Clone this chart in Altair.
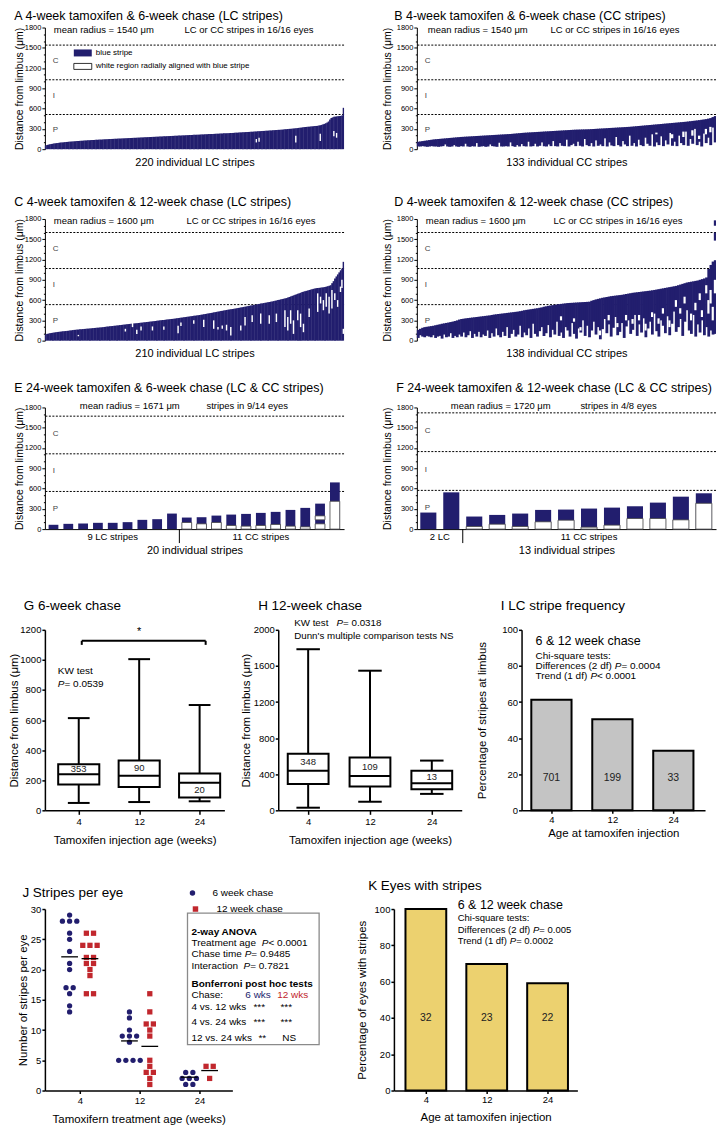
import altair as alt
import pandas as pd

FONT = "Liberation Sans"
NAVY = "#221e6e"
RED = "#c1272d"
BARGRAY = "#c4c4c4"
YELLOW = "#ecd16f"

# ---------------- data ----------------
A_top = [55, 62, 68, 72, 76, 80, 84, 87, 90, 93,
         96, 98, 100, 102, 104, 106, 108, 110, 112, 114,
         115, 117, 118, 120, 121, 123, 124, 126, 127, 129,
         130, 131, 132, 134, 135, 136, 137, 139, 140, 141,
         142, 143, 144, 146, 147, 148, 149, 150, 151, 152,
         153, 154, 155, 156, 157, 158, 159, 160, 161, 162,
         163, 164, 165, 166, 167, 168, 169, 170, 171, 172,
         173, 174, 175, 176, 177, 178, 179, 180, 181, 182,
         183, 184, 185, 186, 187, 188, 189, 190, 191, 192,
         193, 194, 195, 196, 197, 198, 199, 200, 201, 202,
         203, 204, 205, 206, 207, 208, 209, 210, 211, 212,
         213, 214, 215, 216, 217, 218, 219, 220, 221, 222,
         223, 224, 225, 226, 227, 228, 229, 230, 231, 232,
         233, 234, 235, 236, 237, 238, 239, 240, 241, 243,
         244, 245, 246, 248, 249, 250, 251, 253, 254, 255,
         256, 258, 259, 260, 262, 263, 264, 266, 267, 268,
         270, 271, 272, 274, 275, 277, 278, 280, 281, 283,
         284, 286, 287, 289, 290, 292, 294, 296, 298, 300,
         302, 304, 306, 308, 310, 312, 315, 318, 320, 323,
         326, 328, 330, 332, 334, 336, 338, 340, 342, 344,
         346, 350, 355, 360, 368, 375, 385, 395, 410, 440,
         462, 470, 478, 482, 485, 488, 490, 492, 500, 612]
A_gap_i = [155, 157, 184, 202, 212, 214]
A_gap_lo = [100, 110, 100, 120, 190, 170]
A_gap_hi = [150, 170, 200, 230, 270, 240]

B_top = [110, 115, 120, 125, 130, 135, 140, 145, 148, 151,
         154, 157, 160, 163, 166, 169, 172, 175, 178, 181,
         183, 185, 187, 189, 191, 193, 195, 197, 199, 201,
         203, 205, 207, 209, 211, 213, 215, 217, 219, 221,
         223, 225, 228, 231, 234, 237, 240, 243, 245, 247,
         249, 251, 253, 255, 257, 259, 261, 263, 265, 267,
         269, 271, 273, 275, 277, 279, 281, 283, 285, 287,
         289, 290, 291, 292, 293, 294, 295, 297, 299, 301,
         303, 305, 307, 309, 311, 313, 315, 317, 319, 321,
         323, 325, 327, 329, 331, 334, 337, 340, 343, 346,
         349, 352, 355, 358, 361, 364, 367, 370, 373, 376,
         379, 382, 385, 388, 391, 394, 397, 400, 403, 406,
         410, 414, 418, 422, 426, 430, 435, 440, 445, 452,
         460, 475, 490]
B_bot = [40, 40, 45, 40, 35, 40, 45, 40, 40, 35,
         40, 45, 70, 40, 35, 40, 60, 40, 35, 45,
         40, 80, 40, 35, 45, 40, 90, 35, 40, 45,
         35, 40, 70, 45, 40, 35, 95, 40, 40, 45,
         40, 100, 45, 35, 60, 40, 75, 45, 40, 110,
         40, 45, 80, 40, 50, 100, 45, 40, 70, 45,
         120, 45, 40, 90, 50, 45, 140, 40, 60, 80,
         45, 110, 50, 40, 150, 60, 45, 90, 40, 130,
         50, 70, 45, 160, 40, 100, 55, 45, 180, 60,
         40, 120, 70, 45, 200, 50, 90, 40, 140, 60,
         45, 170, 80, 50, 220, 40, 100, 60, 190, 45,
         130, 70, 240, 50, 110, 45, 200, 90, 60, 260,
         50, 150, 80, 300, 60, 110, 40, 230, 90, 170,
         60, 320, 100]
B_gap_i = [106, 113, 118, 122, 125, 128, 130]
B_gap_lo = [220, 160, 180, 200, 150, 220, 250]
B_gap_hi = [245, 220, 260, 280, 200, 300, 330]

C_top = [95, 100, 105, 110, 114, 118, 121, 124, 127, 130,
         133, 136, 138, 140, 142, 144, 147, 150, 153, 156,
         159, 161, 163, 165, 167, 169, 171, 173, 175, 177,
         179, 181, 183, 185, 187, 189, 191, 193, 195, 197,
         199, 202, 205, 208, 210, 212, 215, 217, 220, 222,
         225, 227, 230, 232, 235, 237, 240, 242, 245, 247,
         250, 252, 254, 257, 259, 261, 263, 266, 268, 271,
         273, 276, 278, 281, 283, 286, 288, 291, 294, 297,
         300, 302, 305, 307, 310, 312, 315, 317, 320, 322,
         325, 328, 331, 334, 337, 340, 343, 346, 349, 352,
         355, 358, 361, 364, 367, 370, 373, 376, 379, 383,
         387, 390, 394, 398, 402, 406, 410, 414, 418, 422,
         426, 430, 434, 438, 442, 446, 450, 454, 458, 462,
         465, 468, 471, 475, 479, 483, 487, 491, 495, 499,
         503, 507, 511, 515, 519, 523, 527, 531, 535, 540,
         544, 548, 552, 556, 560, 564, 568, 572, 576, 580,
         585, 590, 595, 600, 605, 610, 615, 620, 625, 630,
         638, 646, 654, 662, 670, 678, 686, 694, 702, 710,
         719, 725, 731, 737, 743, 749, 755, 761, 767, 773,
         777, 779, 781, 784, 787, 790, 795, 800, 805, 812,
         820, 850, 880, 918, 950, 980, 1010, 1040, 1066, 1166]
C_gap_i = [23, 56, 61, 64, 67, 75, 83, 93, 95, 104, 111, 118, 121, 124, 127, 130,
           137, 140, 145, 151, 157, 162, 168, 170, 172, 174, 177, 179, 181, 185,
           191, 193, 195, 197, 199, 201, 203, 205, 207, 208, 209]
C_gap_lo = [65, 135, 200, 100, 150, 150, 160, 110, 215, 250, 200, 175, 165, 175, 150, 75,
            150, 225, 275, 250, 250, 275, 200, 150, 250, 100, 300, 200, 125, 350,
            425, 550, 450, 500, 400, 475, 600, 500, 720, 780, 100]
C_gap_hi = [85, 175, 270, 160, 210, 210, 210, 220, 270, 300, 310, 300, 200, 225, 235, 200,
            225, 350, 375, 400, 375, 400, 450, 350, 450, 300, 450, 400, 250, 475,
            700, 650, 600, 700, 650, 750, 700, 600, 800, 900, 175]

D_top = [160, 175, 190, 200, 205, 210, 215, 220, 228, 235,
         242, 250, 256, 262, 268, 275, 282, 290, 300, 312,
         320, 325, 330, 334, 338, 342, 346, 350, 354, 358,
         362, 366, 370, 374, 380, 386, 390, 394, 398, 402,
         406, 410, 414, 418, 422, 426, 430, 436, 442, 450,
         455, 460, 465, 470, 475, 480, 486, 492, 500, 508,
         515, 520, 525, 530, 535, 540, 544, 548, 552, 556,
         558, 560, 562, 564, 566, 568, 570, 572, 574, 576,
         590, 600, 610, 618, 626, 634, 640, 646, 652, 658,
         662, 666, 670, 674, 678, 684, 690, 696, 702, 708,
         712, 716, 720, 724, 728, 732, 736, 740, 745, 750,
         756, 762, 768, 774, 780, 786, 792, 798, 804, 810,
         820, 830, 840, 850, 860, 866, 872, 878, 884, 890,
         900, 910, 920, 935, 1060, 1120, 1170, 1190]
D_bot = [40, 80, 60, 50, 70, 60, 50, 80, 40, 60,
         70, 30, 90, 50, 60, 110, 40, 70, 50, 90,
         60, 120, 50, 80, 140, 40, 100, 60, 130, 50,
         90, 70, 150, 40, 110, 60, 180, 80, 50, 130,
         70, 200, 40, 100, 160, 60, 90, 220, 50, 120,
         80, 180, 40, 250, 100, 60, 140, 200, 70, 110,
         230, 50, 160, 90, 280, 70, 120, 40, 200, 150,
         60, 260, 100, 30, 180, 120, 300, 70, 220, 50,
         150, 280, 90, 200, 20, 170, 320, 110, 240, 60,
         190, 350, 80, 130, 260, 40, 210, 300, 100, 160,
         380, 70, 240, 120, 330, 50, 180, 280, 90, 400,
         140, 60, 300, 220, 110, 360, 80, 250, 430, 130,
         200, 320, 70, 280, 450, 150, 100, 380, 60, 240,
         120, 300, 80, 200, 60, 150, 90, 100]
D_gap_i = [66, 72, 75, 84, 88, 92, 96, 99, 102, 105, 108, 111, 113, 116, 119, 121,
           123, 126, 128, 130, 131, 133, 134, 135, 136, 137]
D_gap_lo = [300, 280, 150, 80, 300, 200, 300, 250, 300, 150, 350, 250, 400, 200, 500, 400,
            550, 300, 450, 600, 350, 700, 400, 550, 300, 700]
D_gap_hi = [360, 330, 200, 150, 380, 260, 380, 320, 380, 250, 420, 330, 480, 300, 600, 480,
            650, 400, 560, 700, 450, 820, 600, 750, 500, 900]
D_ext_i = [137, 137]
D_ext_lo = [1480, 1700]
D_ext_hi = [1600, 1780]

E_top = [64, 78, 83, 93, 93, 103, 137, 147, 230, 171, 176, 200, 215, 225, 240, 255, 284, 314, 377, 691]
E_white = [0, 0, 0, 0, 0, 0, 0, 0, 0, 98, 78, 98, 54, 44, 54, 69, 44, 34, 78, 412]
E_w2_i = [19]
E_w2_lo = [137]
E_w2_hi = [196]
F_top = [245, 544, 186, 210, 230, 284, 289, 304, 318, 338, 392, 480, 530]
F_white = [0, 0, 39, 73, 39, 108, 132, 29, 59, 157, 157, 137, 382]

AGES = ["4", "12", "24"]
G_min = [49, 55, 60]
G_q1 = [171, 155, 85]
G_med = [240, 229, 183]
G_q3 = [307, 332, 245]
G_max = [613, 1005, 700]
G_n = ["353", "90", "20"]
G_half = ["upper", "upper", "lower"]
H_min = [29, 95, 182]
H_q1 = [292, 263, 234]
H_med = [438, 380, 299]
H_q3 = [628, 584, 438]
H_max = [1785, 1547, 551]
H_n = ["348", "109", "13"]
H_half = ["upper", "upper", "upper"]
I_pct = [61.3, 50.5, 33.0]
I_n = ["701", "199", "33"]
K_pct = [100, 69.7, 59.1]
K_n = ["32", "23", "22"]

J6_w4 = [29, 28, 28, 28, 26, 25, 23, 21, 20, 17, 17, 16, 14, 13]
J6_w12 = [13, 12, 10, 9, 9, 9, 8, 5, 5, 5, 5]
J6_w24 = [3, 3, 2, 2, 2, 1, 1]
J12_w4 = [26, 26, 24, 24, 24, 22, 22, 21, 21, 20, 19, 16, 16]
J12_w12 = [16, 13, 11, 11, 10, 9, 5, 4, 3, 3, 2, 1]
J12_w24 = [4, 4, 2]
J6_mean = [22.1, 8.2, 2.2]
J12_mean = [21.8, 7.3, 3.3]
CHASES = ["6 week chase", "12 week chase"]

# ---------------- text helpers ----------------
AW = {" ": 278, "!": 278, "(": 333, ")": 333, "*": 389, "+": 584, ",": 278, "-": 333, ".": 278,
      "/": 278, ":": 278, "<": 584, "=": 584, ">": 584, "&": 667, "'": 191}
for _c in "0123456789":
    AW[_c] = 556
AW.update(dict(zip("ABCDEFGHIJKLMNOPQRSTUVWXYZ",
                   [667, 667, 722, 722, 667, 611, 778, 722, 278, 500, 667, 556, 833, 722, 778, 667, 778,
                    722, 667, 611, 722, 667, 944, 667, 667, 611])))
AW.update(dict(zip("abcdefghijklmnopqrstuvwxyz",
                   [556, 556, 500, 556, 556, 278, 556, 556, 222, 222, 500, 222, 833, 556, 556, 556, 556,
                    333, 500, 278, 556, 500, 722, 500, 500, 500])))


def tw(s, size):
    return sum(AW.get(c, 556) for c in s) * size / 1000.0


def txt(s, x, y, size=10, align="left", color="black", weight="normal", style="normal"):
    return alt.Chart(pd.DataFrame({"t": [s]})).mark_text(
        align=align, baseline="middle", fontSize=size, color=color, fontWeight=weight,
        fontStyle=style, font=FONT).encode(text="t:N", x=alt.value(x), y=alt.value(y))


def rich(parts, x, y, size=10):
    out = []
    for s, it in parts:
        out.append(txt(s, x, y, size=size, style="italic" if it else "normal"))
        x += tw(s, size)
    return out


def ptitle(text, dx, offset, size=12.5):
    return alt.TitleParams(text, anchor="start", dx=dx, offset=offset, fontSize=size,
                           fontWeight="normal", font=FONT, color="black")


# ---------------- stripe panels (A-F) ----------------
SW, SH = 300, 122


def stripe_yaxis(tp):
    return alt.Axis(title="Distance from limbus (μm)", values=list(range(0, 1801, 100)), format="d",
                    labelExpr="datum.value % 300 === 0 ? datum.label : ''",
                    tickSize={"condition": {"test": "datum.value % 300 === 0", "value": 3}, "value": 1.5},
                    labelFontSize=7.5, labelPadding=1, titleFontSize=10.5, titlePadding=tp,
                    grid=False, labelOverlap=False, labelFlush=False, domainWidth=1, tickWidth=1)


def common_layers(bounds, ys, yax, t1, t1x, t2, t2x, ty):
    zdf = pd.DataFrame({"z": ["C", "I", "P"],
                        "zy": [(bounds[0] + bounds[1]) / 2 + 20, (bounds[1] + bounds[2]) / 2 + 20,
                               bounds[2] / 2 + 20]})
    zones = alt.Chart(zdf).mark_text(align="left", baseline="middle", fontSize=8, color="#444444",
                                     font=FONT).encode(x=alt.value(8), y=alt.Y("zy:Q", scale=ys, axis=yax),
                                                       text="z:N")
    return [zones, txt(t1, t1x, ty, 9.5), txt(t2, t2x, ty, 9.5)]


def bound_layer(bounds, ys, yax):
    return alt.Chart(pd.DataFrame({"b": bounds})).mark_rule(
        color="black", strokeDash=[2, 1.5], strokeWidth=1).encode(y=alt.Y("b:Q", scale=ys, axis=yax))


def stripe_panel(title, dx, toff, tops, bots, gi, glo, ghi, bounds, t1, t1x, t2, t2x, xtitle, tp,
                 ei=None, elo=None, ehi=None, legend=False):
    n = len(tops)
    xs = alt.Scale(domain=[0, n], nice=False, zero=False)
    ys = alt.Scale(domain=[0, 1800], nice=False, zero=False)
    yax = stripe_yaxis(tp)
    xax = alt.Axis(labels=False, ticks=False, domain=False, grid=False, title=xtitle,
                   titleFontSize=11, titlePadding=7)
    df = pd.DataFrame({"i": list(range(n)), "top": tops, "bot": bots})
    layers = [bound_layer(bounds, ys, yax)]
    layers.append(alt.Chart(df).transform_calculate(i2=f"min(datum.i + 1.3, {n})").mark_rect(
        color=NAVY).encode(
        x=alt.X("i:Q", scale=xs, axis=xax), x2="i2:Q",
        y=alt.Y("bot:Q", scale=ys, axis=yax), y2="top:Q"))
    gdf = pd.DataFrame({"i": gi, "lo": glo, "hi": ghi})
    layers.append(alt.Chart(gdf).transform_calculate(i2="datum.i + 1").mark_rect(color="white").encode(
        x=alt.X("i:Q", scale=xs, axis=xax), x2="i2:Q",
        y=alt.Y("lo:Q", scale=ys, axis=yax), y2="hi:Q"))
    if ei:
        edf = pd.DataFrame({"i": ei, "lo": elo, "hi": ehi})
        layers.append(alt.Chart(edf).transform_calculate(i2="datum.i + 1").mark_rect(color=NAVY).encode(
            x=alt.X("i:Q", scale=xs, axis=xax), x2="i2:Q",
            y=alt.Y("lo:Q", scale=ys, axis=yax), y2="hi:Q"))
    layers += common_layers(bounds, ys, yax, t1, t1x, t2, t2x, 2)
    if legend:
        one = pd.DataFrame({"k": [0]})
        layers.append(alt.Chart(one).mark_rect(color=NAVY).encode(
            x=alt.value(29), x2=alt.value(47), y=alt.value(22), y2=alt.value(29)))
        layers.append(alt.Chart(one).mark_rect(fill="white", stroke="black", strokeWidth=0.8).encode(
            x=alt.value(29), x2=alt.value(47), y=alt.value(36), y2=alt.value(42)))
        layers.append(txt("blue stripe", 51, 25.5, 8))
        layers.append(txt("white region radially aligned with blue stripe", 51, 39, 8))
    return alt.layer(*layers).properties(width=SW, height=SH, title=ptitle(title, dx, toff))


def ef_panel(title, dx, tops, whites, w2i, w2lo, w2hi, nlc, grp_labels, dom, hw, bounds,
             t1, t1x, t2, t2x, xtitle, tp):
    n = len(tops)
    xs = alt.Scale(domain=dom, nice=False, zero=False)
    ys = alt.Scale(domain=[0, 1800], nice=False, zero=False)
    yax = stripe_yaxis(tp)
    xax = alt.Axis(labels=False, ticks=False, domain=True, grid=False, title=xtitle,
                   titleFontSize=11, titlePadding=15, domainWidth=1)
    X = lambda f: alt.X(f, scale=xs, axis=xax)
    Y = lambda f: alt.Y(f, scale=ys, axis=yax)
    df = pd.DataFrame({"idx": list(range(1, n + 1)), "top": tops, "wtop": whites})
    calc = dict(xl=f"datum.idx - {hw}", xr=f"datum.idx + {hw}", z="0")
    layers = [bound_layer(bounds, ys, yax)]
    layers.append(alt.Chart(df).transform_calculate(**calc).mark_rect(color=NAVY).encode(
        x=X("xl:Q"), x2="xr:Q", y=Y("z:Q"), y2="top:Q"))
    layers.append(alt.Chart(df).transform_filter("datum.wtop > 0").transform_calculate(**calc).mark_rect(
        fill="white", stroke="#444444", strokeWidth=0.8).encode(
        x=X("xl:Q"), x2="xr:Q", y=Y("z:Q"), y2="wtop:Q"))
    if w2i:
        w2 = pd.DataFrame({"idx": w2i, "lo": w2lo, "hi": w2hi})
        layers.append(alt.Chart(w2).transform_calculate(xl=f"datum.idx - {hw}", xr=f"datum.idx + {hw}").mark_rect(
            fill="white", stroke="#444444", strokeWidth=0.8).encode(
            x=X("xl:Q"), x2="xr:Q", y=Y("lo:Q"), y2="hi:Q"))
    layers += common_layers(bounds, ys, yax, t1, t1x, t2, t2x, -1)
    gl = pd.DataFrame({"lab": grp_labels, "xc": [(1 + nlc) / 2, (nlc + 1 + n) / 2]})
    layers.append(alt.Chart(gl).mark_text(fontSize=9.5, baseline="middle", align="center", font=FONT).encode(
        x=X("xc:Q"), y=alt.value(SH + 8), text="lab:N"))
    layers.append(alt.Chart(pd.DataFrame({"s": [nlc + 0.5]})).mark_rule(color="black", strokeWidth=1).encode(
        x=X("s:Q"), y=alt.value(SH), y2=alt.value(SH + 14)))
    return alt.layer(*layers).properties(width=SW, height=SH, title=ptitle(title, dx, 7))


# ---------------- G-K panels ----------------
AGE_EXPR = "['4','12','24'][datum.value]"


def xaxis_cat(title, tick, lpad, tp):
    return alt.Axis(values=[0, 1, 2], labelExpr=AGE_EXPR, title=title, tickSize=tick, labelPadding=lpad,
                    labelFontSize=9.5, titleFontSize=11.5, titlePadding=tp, domainWidth=1.5, tickWidth=1.5,
                    grid=False, labelFlush=False)


def yaxis_num(title, vals, tp):
    return alt.Axis(values=vals, title=title, format="d", tickSize=3, labelPadding=1, labelFontSize=9.5,
                    titleFontSize=11.5, titlePadding=tp, domainWidth=1.5, tickWidth=1.5, grid=False,
                    labelFlush=False, labelOverlap=False)


def box_panel(title, dx, toff, W, H, dom, ymax, ystep, mins, q1, med, q3, maxs, ns, half,
              ytp, xtitle, bhw, chw, extra):
    xs = alt.Scale(domain=dom, nice=False, zero=False)
    ys = alt.Scale(domain=[0, ymax], nice=False)
    xax = xaxis_cat(xtitle, 4, 2, 9)
    yax = yaxis_num("Distance from limbus (μm)", list(range(0, ymax + 1, ystep)), ytp)
    X = lambda f: alt.X(f, scale=xs, axis=xax)
    Y = lambda f: alt.Y(f, scale=ys, axis=yax)
    ly = [(med[k] + q3[k]) / 2 if half[k] == "upper" else (q1[k] + med[k]) / 2 for k in range(3)]
    df = pd.DataFrame({"idx": [0, 1, 2], "mn": mins, "q1": q1, "md": med, "q3": q3, "mx": maxs,
                       "n": ns, "ly": ly})
    base = alt.Chart(df).transform_calculate(xl=f"datum.idx - {bhw}", xr=f"datum.idx + {bhw}",
                                             cl=f"datum.idx - {chw}", cr=f"datum.idx + {chw}")
    layers = [
        base.mark_rule(color="black", strokeWidth=2).encode(x=X("idx:Q"), y=Y("mn:Q"), y2="mx:Q"),
        base.mark_rect(fill="white", stroke="black", strokeWidth=2).encode(
            x=X("xl:Q"), x2="xr:Q", y=Y("q1:Q"), y2="q3:Q"),
        base.mark_rule(color="black", strokeWidth=2).encode(x=X("xl:Q"), x2="xr:Q", y=Y("md:Q")),
        base.mark_rule(color="black", strokeWidth=2).encode(x=X("cl:Q"), x2="cr:Q", y=Y("mn:Q")),
        base.mark_rule(color="black", strokeWidth=2).encode(x=X("cl:Q"), x2="cr:Q", y=Y("mx:Q")),
        base.mark_text(fontSize=9.5, color="#222222", font=FONT, baseline="middle").encode(
            x=X("idx:Q"), y=Y("ly:Q"), text="n:N"),
    ]
    layers += extra(X, Y)
    return alt.layer(*layers).properties(width=W, height=H, title=ptitle(title, dx, toff, 13.5))


def g_extra(X, Y):
    br = pd.DataFrame({"x1": [0.05], "x2": [2.1], "y": [1127], "yd": [1100], "xm": [1.0], "ys": [1185],
                       "s": ["*"]})
    c = alt.Chart(br)
    return [
        c.mark_rule(color="black", strokeWidth=2).encode(x=X("x1:Q"), x2="x2:Q", y=Y("y:Q")),
        c.mark_rule(color="black", strokeWidth=2).encode(x=X("x1:Q"), y=Y("yd:Q"), y2="y:Q"),
        c.mark_rule(color="black", strokeWidth=2).encode(x=X("x2:Q"), y=Y("yd:Q"), y2="y:Q"),
        c.mark_text(fontSize=11, font=FONT, baseline="middle").encode(x=X("xm:Q"), y=Y("ys:Q"), text="s:N"),
        txt("KW test", 13, 41, 10),
    ] + rich([("P", True), (" = 0.0539", False)], 13, 54, 10)


def h_extra(X, Y):
    return rich([("KW test   ", False), ("P", True), (" = 0.0318", False)], 16, -7, 9.8) + \
        [txt("Dunn's multiple comparison tests NS", 16, 6, 9.8)]


def bar_panel(title, dx, toff, W, H, dom, vals, ns, color, ytitle, ytp, xtitle, xtick, xtp, bhw,
              lbl_y, texts):
    xs = alt.Scale(domain=dom, nice=False, zero=False)
    ys = alt.Scale(domain=[0, 100], nice=False)
    xax = xaxis_cat(xtitle, xtick, 1, xtp)
    yax = yaxis_num(ytitle, [0, 20, 40, 60, 80, 100], ytp)
    df = pd.DataFrame({"idx": [0, 1, 2], "v": vals, "n": ns})
    base = alt.Chart(df).transform_calculate(xl=f"datum.idx - {bhw}", xr=f"datum.idx + {bhw}", z="0")
    layers = [
        base.mark_rect(fill=color, stroke="black", strokeWidth=2).encode(
            x=alt.X("xl:Q", scale=xs, axis=xax), x2="xr:Q", y=alt.Y("z:Q", scale=ys, axis=yax), y2="v:Q"),
        base.mark_text(fontSize=10.5, font=FONT, baseline="middle", color="#222222").encode(
            x=alt.X("idx:Q", scale=xs, axis=xax), y=alt.value(lbl_y), text="n:N"),
    ]
    layers += texts
    return alt.layer(*layers).properties(width=W, height=H, title=ptitle(title, dx, toff, 13.5))


# ---------------- build panels ----------------
A = stripe_panel("A  4-week tamoxifen & 6-week chase (LC stripes)", 0, 1, A_top, [0] * len(A_top),
                 A_gap_i, A_gap_lo, A_gap_hi, [1540, 1027, 513],
                 "mean radius = 1540 μm", 9, "LC or CC stripes in 16/16 eyes", 140,
                 "220 individual LC stripes", 0, legend=True)
B = stripe_panel("B  4-week tamoxifen & 6-week chase (CC stripes)", 12, 1, B_top, B_bot,
                 B_gap_i, B_gap_lo, B_gap_hi, [1540, 1027, 513],
                 "mean radius = 1540 μm", 11, "LC or CC stripes in 16/16 eyes", 134,
                 "133 individual CC stripes", 4)
C = stripe_panel("C  4-week tamoxifen & 12-week chase (LC stripes)", 0, 7, C_top, [0] * len(C_top),
                 C_gap_i, C_gap_lo, C_gap_hi, [1600, 1067, 533],
                 "mean radius = 1600 μm", 9, "LC or CC stripes in 16/16 eyes", 142,
                 "210 individual LC stripes", 0)
D = stripe_panel("D  4-week tamoxifen & 12-week chase (CC stripes)", 12, 7, D_top, D_bot,
                 D_gap_i, D_gap_lo, D_gap_hi, [1600, 1067, 533],
                 "mean radius = 1600 μm", 9, "LC or CC stripes in 16/16 eyes", 137,
                 "138 individual CC stripes", 4, D_ext_i, D_ext_lo, D_ext_hi)
E = ef_panel("E  24-week tamoxifen & 6-week chase (LC & CC stripes)", 0, E_top, E_white,
             E_w2_i, E_w2_lo, E_w2_hi, 9, ["9 LC stripes", "11 CC stripes"], [0.42, 20.62], 0.33,
             [1671, 1114, 557], "mean radius = 1671 μm", 35, "stripes in 9/14 eyes", 162,
             "20 individual stripes", 0)
F = ef_panel("F  24-week tamoxifen & 12-week chase (LC & CC stripes)", 14, F_top, F_white,
             [], [], [], 2, ["2 LC", "11 CC stripes"], [0.5, 13.53], 0.35,
             [1720, 1147, 573], "mean radius = 1720 μm", 34, "stripes in 4/8 eyes", 164,
             "13 individual stripes", 4)

G = box_panel("G  6-week chase", 15, 12, 180, 181, [-0.56, 2.41], 1200, 200,
              G_min, G_q1, G_med, G_q3, G_max, G_n, G_half, 0, "Tamoxifen injection age (weeks)",
              0.34, 0.18, g_extra)
H = box_panel("H  12-week chase", 18, 5, 184, 181, [-0.484, 2.484], 2000, 400,
              H_min, H_q1, H_med, H_q3, H_max, H_n, H_half, 2, "Tamoxifen injection age (weeks)",
              0.33, 0.19, h_extra)

I_texts = [txt("6 & 12 week chase", 14, 11, 12.5), txt("Chi-square tests:", 14, 26, 10)] + \
    rich([("Differences (2 df) ", False), ("P", True), (" = 0.0004", False)], 14, 36, 10) + \
    rich([("Trend (1 df) ", False), ("P", True), (" < 0.0001", False)], 14, 46, 10)
I = bar_panel("I  LC stripe frequency", 24, 12, 184, 181, [-0.49, 2.52], I_pct, I_n, BARGRAY,
              "Percentage of stripes at limbus", 14, "Age at tamoxifen injection", 3, 4, 0.33, 149, I_texts)

K_texts = [txt("6 & 12 week chase", 64, -4, 12.5), txt("Chi-square tests:", 64, 9, 9.5)] + \
    rich([("Differences (2 df) ", False), ("P", True), (" = 0.005", False)], 64, 21, 9.5) + \
    rich([("Trend (1 df) ", False), ("P", True), (" = 0.0002", False)], 64, 32, 9.5)
K = bar_panel("K  Eyes with stripes", 12, 7, 184, 182, [-0.525, 2.49], K_pct, K_n, YELLOW,
              "Percentage of eyes with stripes", 7, "Age at tamoxifen injection", 3, 8, 0.335, 109, K_texts)

# ---- J ----
rows = []
for ci, groups in enumerate([[J6_w4, J6_w12, J6_w24], [J12_w4, J12_w12, J12_w24]]):
    for gi_, vals in enumerate(groups):
        for v in vals:
            rows.append({"idx": gi_, "chase": CHASES[ci], "v": v})
jdf = pd.DataFrame(rows)
mrows = []
for ci, means in enumerate([J6_mean, J12_mean]):
    for gi_, m in enumerate(means):
        mrows.append({"idx": gi_, "chase": CHASES[ci], "m": m})
mdf = pd.DataFrame(mrows)

jxs = alt.Scale(domain=[-0.583, 2.55], nice=False, zero=False)
jys = alt.Scale(domain=[0, 30], nice=False)
jxax = xaxis_cat("Tamoxifern treatment age (weeks)", 3, 2, 9)
jyax = yaxis_num("Number of stripes per eye", [0, 5, 10, 15, 20, 25, 30], 2)
OFF = "(datum.chase == '6 week chase' ? -0.17 : 0.17)"
points = alt.Chart(jdf).transform_window(
    rn="row_number()", groupby=["idx", "chase", "v"]).transform_joinaggregate(
    cnt="count()", groupby=["idx", "chase", "v"]).transform_calculate(
    xj=f"datum.idx + {OFF} + (datum.rn - (datum.cnt + 1) / 2) * 0.12").mark_point(
    filled=True, size=28, opacity=1).encode(
    x=alt.X("xj:Q", scale=jxs, axis=jxax), y=alt.Y("v:Q", scale=jys, axis=jyax),
    color=alt.Color("chase:N", scale=alt.Scale(domain=CHASES, range=[NAVY, RED]), legend=None),
    shape=alt.Shape("chase:N", scale=alt.Scale(domain=CHASES, range=["circle", "square"]), legend=None))
means = alt.Chart(mdf).transform_calculate(
    xl=f"datum.idx + {OFF} - 0.14", xr=f"datum.idx + {OFF} + 0.14").mark_rule(
    color="black", strokeWidth=1.3).encode(
    x=alt.X("xl:Q", scale=jxs, axis=jxax), x2="xr:Q", y=alt.Y("m:Q", scale=jys, axis=jyax))
one = pd.DataFrame({"k": [0]})
leg = [
    alt.Chart(one).mark_point(shape="circle", filled=True, size=30, opacity=1, color=NAVY).encode(
        x=alt.value(148), y=alt.value(-16)),
    alt.Chart(one).mark_point(shape="square", filled=True, size=30, opacity=1, color=RED).encode(
        x=alt.value(151), y=alt.value(0)),
    txt(CHASES[0], 168, -16, 10), txt(CHASES[1], 172, 0, 10),
]
box = alt.Chart(one).mark_rect(fill="white", stroke="#8a8a8a", strokeWidth=1.3).encode(
    x=alt.value(143), x2=alt.value(275), y=alt.value(4), y2=alt.value(136))
J_texts = [txt("2-way ANOVA", 147, 23, 10, weight="bold")]
J_texts += rich([("Treatment age  ", False), ("P", True), (" < 0.0001", False)], 147, 34, 10)
J_texts += rich([("Chase time ", False), ("P", True), (" = 0.9485", False)], 147, 45, 10)
J_texts += rich([("Interaction  ", False), ("P", True), (" = 0.7821", False)], 147, 57, 10)
J_texts += [txt("Bonferroni post hoc tests", 147, 75, 10, weight="bold"),
            txt("Chase:", 147, 86, 10), txt("6 wks", 201, 86, 10, color=NAVY),
            txt("12 wks", 233, 86, 10, color=RED),
            txt("4 vs. 12 wks", 147, 98, 10), txt("***", 215, 98, 10, align="center"),
            txt("***", 242, 98, 10, align="center"),
            txt("4 vs. 24 wks", 147, 113, 10), txt("***", 215, 113, 10, align="center"),
            txt("***", 242, 113, 10, align="center"),
            txt("12 vs. 24 wks", 147, 129, 10), txt("**", 218, 129, 10, align="center"),
            txt("NS", 245, 129, 10, align="center")]
J = alt.layer(box, points, means, *leg, *J_texts).properties(
    width=188, height=182, title=ptitle("J  Stripes per eye", 5, -11, 13.5))

# ---------------- layout ----------------
r1 = alt.hconcat(A, B, spacing=37)
r2 = alt.hconcat(C, D, spacing=37)
r3 = alt.hconcat(E, F, spacing=37)
r4 = alt.hconcat(G, H, I, spacing=15)
r5 = alt.hconcat(J, K, spacing=36)


def stack(a, b, s):
    return alt.concat(a, b, columns=1, align="none", spacing=s)


chart = stack(stack(stack(stack(r1, r2, 28), r3, 23), r4, 44), r5, 32).properties(
    padding=0
).configure_view(stroke=None).configure_axis(
    labelFont=FONT, titleFont=FONT, titleFontWeight="normal", labelColor="black", titleColor="black",
    domainColor="black", tickColor="black", grid=False
).configure_text(font=FONT).configure_title(font=FONT)

chart.save("out.html", embed_options={"renderer": "svg", "actions": False})
